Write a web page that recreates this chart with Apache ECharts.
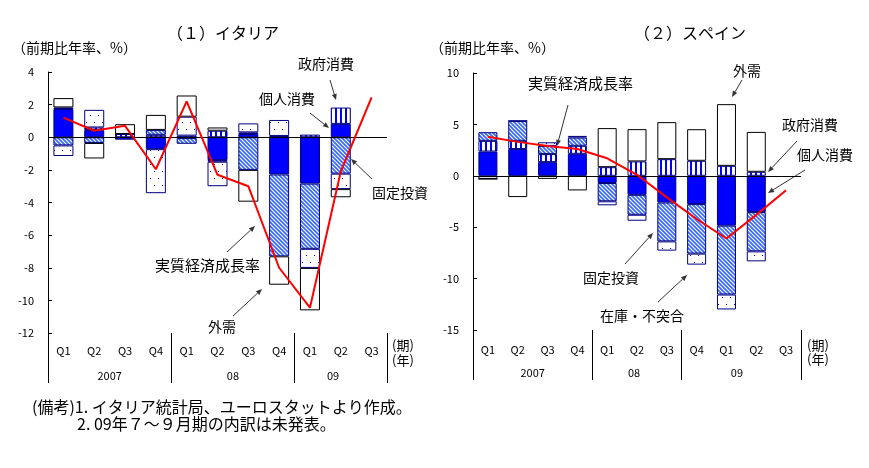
<!DOCTYPE html>
<html>
<head>
<meta charset="utf-8">
<script src="https://cdn.jsdelivr.net/npm/echarts@6/dist/echarts.min.js"></script>
<style>
  html, body { margin: 0; padding: 0; background: #fff; }
  #chart { width: 869px; height: 468px; }
</style>
</head>
<body>
<div id="chart"></div>
<script>
const QUARTERS = ['Q1', 'Q2', 'Q3', 'Q4', 'Q1', 'Q2', 'Q3', 'Q4', 'Q1', 'Q2', 'Q3']

// (1) Italy
const IT_PRIVATE = [1.73, 0.45, -0.15, -0.73, -0.05, -1.4, 0.2, -2.28, -2.84, 0.82, null]
const IT_GOV = [0.1, 0.15, 0.2, 0.15, 0.1, 0.4, 0.1, 0.08, 0.16, 1.0, null]
const IT_INVEST = [-0.5, -0.35, 0, 0.3, -0.35, -0.1, -2.0, -5.02, -4.0, -2.23, null]
const IT_STOCK = [-0.65, 1.08, 0, -2.7, 1.16, -1.5, 0.55, 0.98, -1.17, -0.95, null]
const IT_NETEXP = [0.57, -0.95, 0.6, 0.92, 1.3, 0.2, -1.95, -1.74, -2.6, -0.5, null]
const IT_GDP = [1.2, 0.4, 0.7, -1.96, 2.2, -2.3, -3.0, -8.0, -10.45, -2.1, 2.45]
const IT_YEAR_POS = [2, 6, 9.25]
const IT_YEAR_TEXT = ['2007', '08', '09']
const IT_SEPARATORS = [0, 4, 8, 11]

// (2) Spain
const ES_PRIVATE = [2.36, 2.6, 1.33, 2.14, -0.7, -1.85, -2.6, -2.75, -4.85, -3.53, null]
const ES_GOV = [1.04, 0.8, 0.78, 0.78, 0.84, 1.4, 1.62, 1.46, 0.97, 0.39, null]
const ES_INVEST = [0.84, 1.94, 0.8, 0.8, -1.78, -1.94, -3.78, -4.82, -6.7, -3.82, null]
const ES_STOCK = [-0.3, 0, 0.35, 0.16, -0.39, -0.58, -0.9, -1.07, -1.45, -0.97, null]
const ES_NETEXP = [0, -2.07, -0.3, -1.42, 3.8, 3.14, 3.6, 3.07, 6.0, 3.88, null]
const ES_GDP = [3.8, 3.3, 2.9, 2.6, 1.7, 0.1, -2.1, -4.2, -6.1, -3.8, -1.4]
const ES_YEAR_POS = [2, 5.4, 8.85]
const ES_YEAR_TEXT = ['2007', '08', '09']
const ES_SEPARATORS = [0, 4, 7, 11]

const FONT = '"Noto Sans CJK JP", "Noto Sans", sans-serif'
const NAVY = '#000080'

function makePattern(w, h, draw) {
  const c = document.createElement('canvas')
  c.width = w
  c.height = h
  const ctx = c.getContext('2d')
  ctx.fillStyle = '#fff'
  ctx.fillRect(0, 0, w, h)
  draw(ctx)
  return { image: c, repeat: 'repeat' }
}

const stripePattern = makePattern(5, 5, (ctx) => {
  ctx.fillStyle = '#0000ff'
  ctx.fillRect(0, 0, 2, 5)
})
const hatchPattern = makePattern(4, 4, (ctx) => {
  ctx.strokeStyle = '#3366ff'
  ctx.lineWidth = 1.6
  ctx.beginPath()
  ctx.moveTo(-1, -1); ctx.lineTo(5, 5)
  ctx.moveTo(-1, 3); ctx.lineTo(1, 5)
  ctx.moveTo(3, -1); ctx.lineTo(5, 1)
  ctx.stroke()
})
const dotPattern = makePattern(8, 14, (ctx) => {
  ctx.fillStyle = '#0000ff'
  ctx.fillRect(2, 3, 1, 1)
  ctx.fillRect(6, 10, 1, 1)
})

function barSeries(name, data, color, stack, axisIdx, barWidth, border) {
  return {
    name,
    type: 'bar',
    stack,
    xAxisIndex: axisIdx * 2,
    yAxisIndex: axisIdx,
    barWidth,
    data,
    itemStyle: { color, borderColor: border || NAVY, borderWidth: 1 },
    emphasis: { disabled: true },
    animation: false,
  }
}

function lineSeries(data, axisIdx) {
  return {
    type: 'line',
    xAxisIndex: axisIdx * 2,
    yAxisIndex: axisIdx,
    data,
    symbol: 'none',
    z: 5,
    lineStyle: { color: '#ff0000', width: 2 },
    itemStyle: { color: '#ff0000' },
    animation: false,
    markLine: {
      silent: true,
      symbol: 'none',
      label: { show: false },
      lineStyle: { color: '#000', width: 1, type: 'solid' },
      data: [{ yAxis: 0 }],
    },
  }
}

function categoryAxis(gridIndex, margin) {
  return {
    type: 'category',
    gridIndex,
    data: QUARTERS,
    axisLine: { show: false, onZero: false },
    axisTick: { show: false },
    axisLabel: { color: '#000', fontSize: 11, fontFamily: FONT, margin },
  }
}

function yearAxis(gridIndex, separators, yearPos, yearText, margin) {
  return {
    type: 'value',
    gridIndex,
    position: 'bottom',
    min: 0,
    max: 11,
    axisLine: { show: false, onZero: false },
    splitLine: { show: false },
    axisTick: {
      show: true,
      inside: false,
      length: 50,
      customValues: separators,
      lineStyle: { color: '#000', width: 1 },
    },
    axisLabel: {
      customValues: yearPos,
      color: '#000',
      fontSize: 11,
      fontFamily: FONT,
      margin,
      formatter: (v) => {
        const i = yearPos.indexOf(v)
        return i >= 0 ? yearText[i] : ''
      },
    },
  }
}

function valueAxis(gridIndex, min, max, interval) {
  return {
    type: 'value',
    gridIndex,
    min,
    max,
    interval,
    axisLine: { show: true, lineStyle: { color: '#000' } },
    axisTick: { show: true, inside: true, length: 4, lineStyle: { color: '#000' } },
    axisLabel: { color: '#000', fontSize: 11, fontFamily: FONT, margin: 14 },
    splitLine: { show: false },
  }
}

function text(x, y, str, size, align) {
  return {
    type: 'text',
    x,
    y,
    silent: true,
    style: {
      text: str,
      font: `${size || 14}px ${FONT}`,
      fill: '#000',
      align: align || 'left',
      verticalAlign: 'middle',
    },
  }
}

function arrow(x1, y1, x2, y2) {
  const a = Math.atan2(y2 - y1, x2 - x1)
  const len = 6
  const hw = 2.5
  const bx = x2 - len * Math.cos(a)
  const by = y2 - len * Math.sin(a)
  return [
    {
      type: 'line',
      silent: true,
      shape: { x1, y1, x2: bx, y2: by },
      style: { stroke: '#333', lineWidth: 1 },
    },
    {
      type: 'polygon',
      silent: true,
      shape: {
        points: [
          [x2, y2],
          [bx + hw * Math.sin(a), by - hw * Math.cos(a)],
          [bx - hw * Math.sin(a), by + hw * Math.cos(a)],
        ],
      },
      style: { fill: '#333' },
    },
  ]
}

const chart = echarts.init(document.getElementById('chart'), null, { renderer: 'canvas' })

chart.setOption({
  animation: false,
  grid: [
    { left: 48, top: 72, width: 339, height: 261, outerBoundsMode: 'none' },
    { left: 473, top: 73, width: 328, height: 257, outerBoundsMode: 'none' },
  ],
  xAxis: [
    categoryAxis(0, 12),
    yearAxis(0, IT_SEPARATORS, IT_YEAR_POS, IT_YEAR_TEXT, 37),
    categoryAxis(1, 14),
    yearAxis(1, ES_SEPARATORS, ES_YEAR_POS, ES_YEAR_TEXT, 37),
  ],
  yAxis: [valueAxis(0, -12, 4, 2), valueAxis(1, -15, 10, 5)],
  series: [
    barSeries('個人消費', IT_PRIVATE, '#0000ff', 'it', 0, 20),
    barSeries('政府消費', IT_GOV, stripePattern, 'it', 0, 20),
    barSeries('固定投資', IT_INVEST, hatchPattern, 'it', 0, 20),
    barSeries('在庫・不突合', IT_STOCK, dotPattern, 'it', 0, 20),
    barSeries('外需', IT_NETEXP, '#fff', 'it', 0, 20, '#000'),
    lineSeries(IT_GDP, 0),
    barSeries('個人消費', ES_PRIVATE, '#0000ff', 'es', 1, 19),
    barSeries('政府消費', ES_GOV, stripePattern, 'es', 1, 19),
    barSeries('固定投資', ES_INVEST, hatchPattern, 'es', 1, 19),
    barSeries('在庫・不突合', ES_STOCK, dotPattern, 'es', 1, 19),
    barSeries('外需', ES_NETEXP, '#fff', 'es', 1, 19, '#000'),
    lineSeries(ES_GDP, 1),
  ],
  graphic: [
    text(223, 33, '（１）イタリア', 16, 'center'),
    text(12, 48, '（前期比年率、%）', 14),
    text(690, 33, '（２）スペイン', 16, 'center'),
    text(430, 48, '（前期比年率、%）', 14),
    text(392, 345, '(期)', 13),
    text(392, 360, '(年)', 13),
    text(807, 345, '(期)', 13),
    text(807, 359, '(年)', 13),

    // Italy annotations
    text(298, 64, '政府消費', 14),
    ...arrow(330, 80, 336, 100),
    text(259, 99, '個人消費', 14),
    ...arrow(310, 113, 329, 128),
    text(372, 193, '固定投資', 14),
    ...arrow(372, 179, 351, 159),
    text(155, 265, '実質経済成長率', 15),
    ...arrow(227, 252, 255, 226),
    text(208, 327, '外需', 14),
    ...arrow(233, 316, 262, 289),

    // Spain annotations
    text(528, 83, '実質経済成長率', 15),
    ...arrow(568, 105, 557, 146),
    text(733, 71, '外需', 14),
    ...arrow(742, 80, 732, 97),
    text(782, 125, '政府消費', 14),
    ...arrow(797, 141, 768, 172),
    text(797, 155, '個人消費', 14),
    ...arrow(805, 170, 768, 193),
    text(583, 278, '固定投資', 14),
    ...arrow(625, 264, 653, 233),
    text(600, 316, '在庫・不突合', 14),
    ...arrow(658, 302, 687, 275),

    // notes
    text(32, 407, '(備考)1. イタリア統計局、ユーロスタットより作成。', 16),
    text(77, 424, '2. 09年７～９月期の内訳は未発表。', 16),
  ],
})
</script>
</body>
</html>
